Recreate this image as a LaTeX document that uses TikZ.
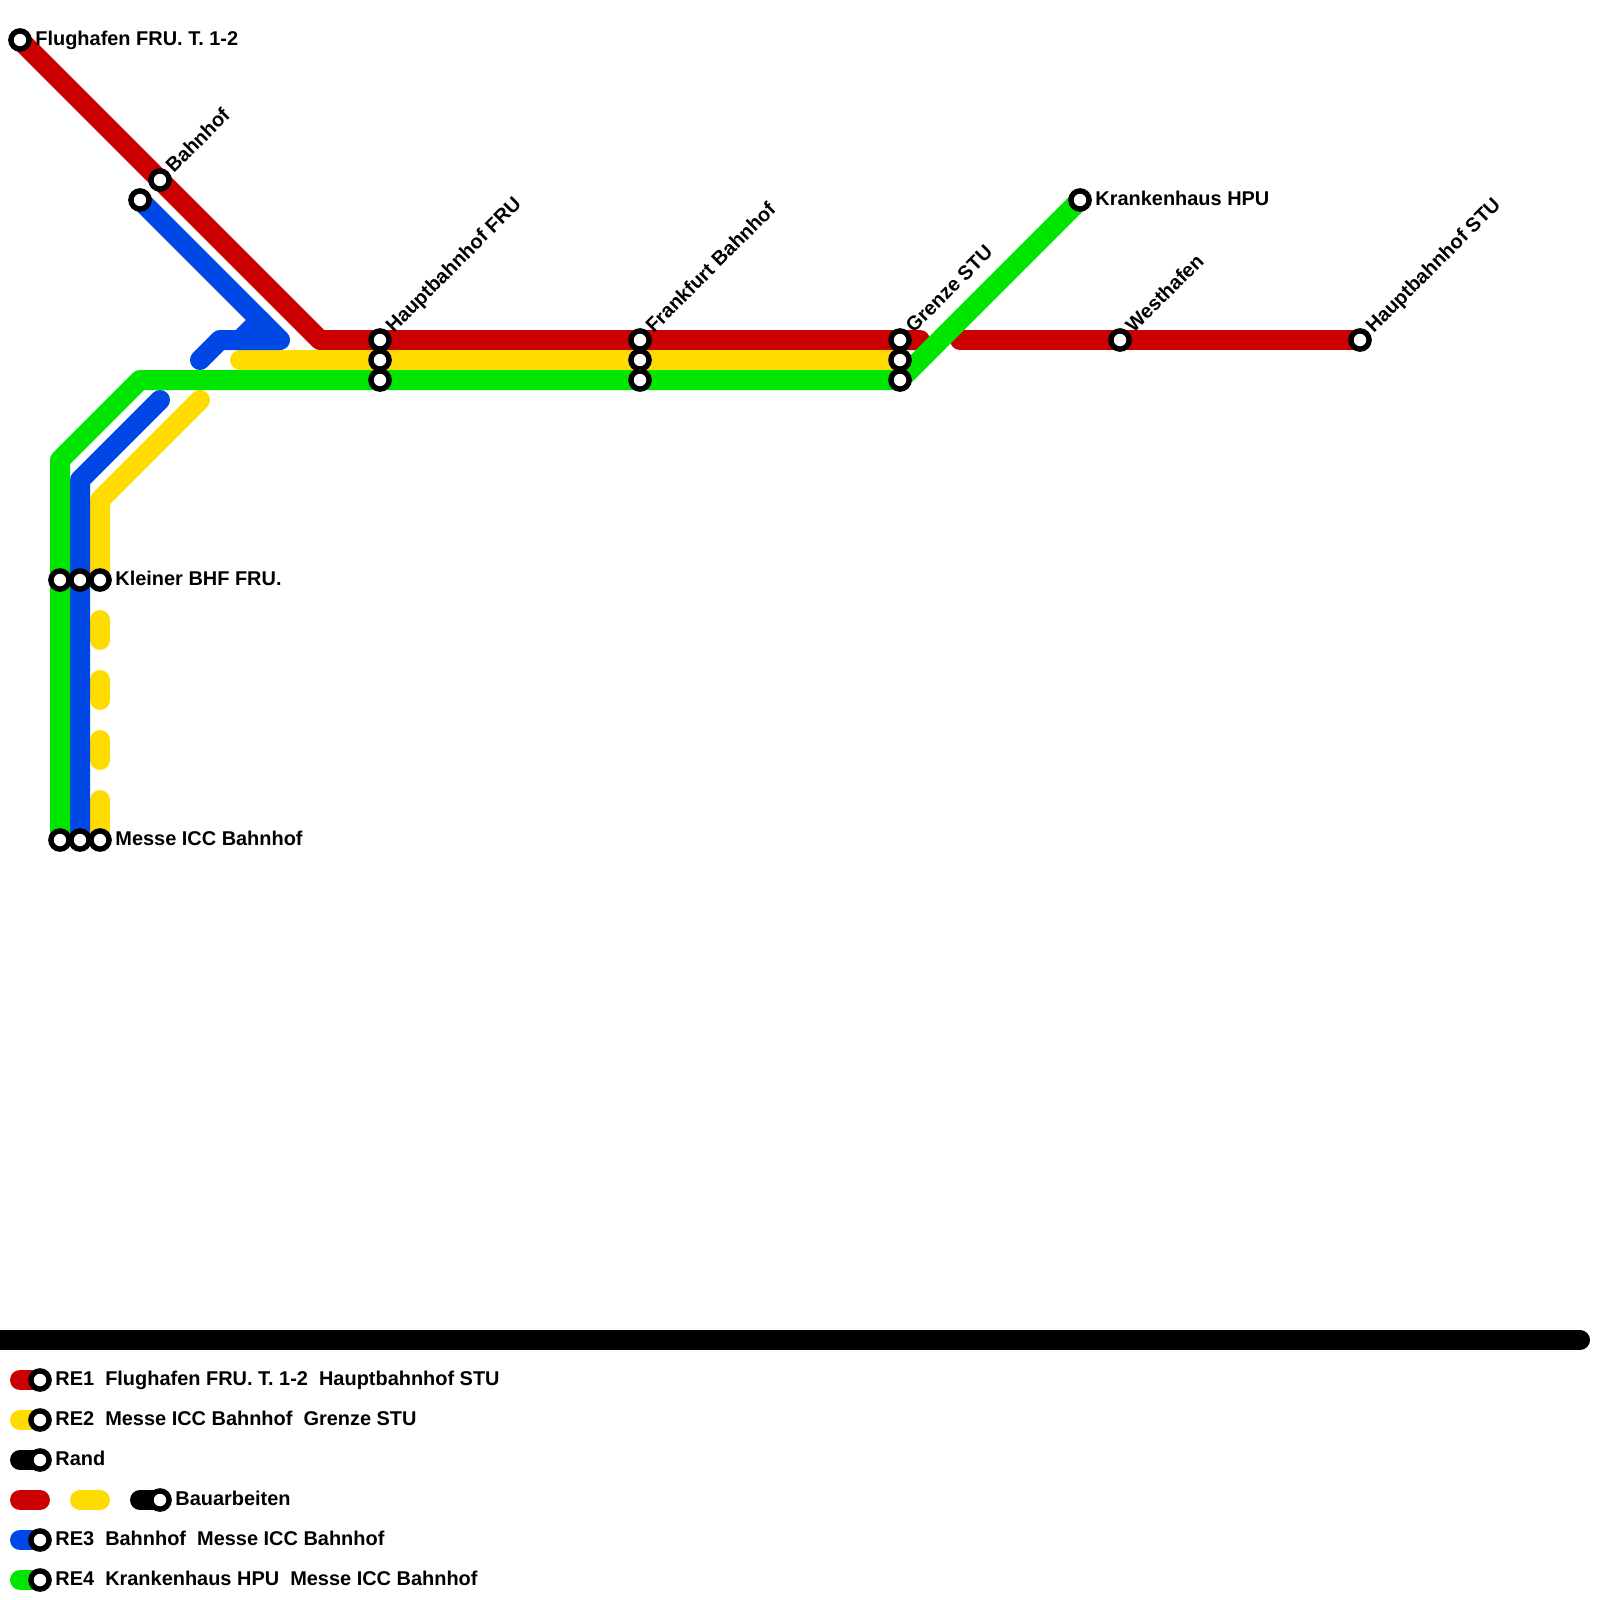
\documentclass[tikz,border=0pt]{standalone}
\usepackage{fontspec}
\setmainfont{Liberation Sans}
\usepackage{xcolor}
\definecolor{LineRed}{HTML}{cc0000}
\definecolor{LineYellow}{HTML}{ffdc00}
\definecolor{LineBlue}{HTML}{0048e6}
\definecolor{LineGreen}{HTML}{00e600}
\tikzset{
    track/.style={line width=10pt,line cap=round,line join=round},
    station/.style={circle,draw=black,fill=white,line width=2.7pt,outer sep=0pt,minimum size=9.1pt,inner sep=0pt},
    sidelabel/.style={anchor=base west,inner sep=0pt,xshift=7.5pt,yshift=-2.7pt,font=\bfseries\fontsize{9.97}{12}\selectfont},
    diaglabel/.style={anchor=base west,inner sep=0pt,xshift=6.8pt,yshift=3pt,rotate=45,font=\bfseries\fontsize{9.97}{12}\selectfont},
}

\begin{document}
\begin{tikzpicture}[x=0.5pt,y=-0.5pt]
    \useasboundingbox (0,0) rectangle (1600,1600);

    \coordinate (Flughafen) at (20,40);
    \coordinate (BahnhofRed) at (160,180);
    \coordinate (BahnhofBlue) at (140,200);
    \coordinate (RedBend) at (320,340);
    \coordinate (HbfRed) at (380,340);
    \coordinate (HbfYellow) at (380,360);
    \coordinate (HbfGreen) at (380,380);
    \coordinate (FfmRed) at (640,340);
    \coordinate (FfmYellow) at (640,360);
    \coordinate (FfmGreen) at (640,380);
    \coordinate (GrenzeRed) at (900,340);
    \coordinate (GrenzeYellow) at (900,360);
    \coordinate (GrenzeGreen) at (900,380);
    \coordinate (RedStop) at (920,340);
    \coordinate (RedStart) at (960,340);
    \coordinate (Westhafen) at (1120,340);
    \coordinate (HbfStu) at (1360,340);
    \coordinate (Krankenhaus) at (1080,200);
    \coordinate (KleinerGreen) at (60,580);
    \coordinate (KleinerBlue) at (80,580);
    \coordinate (KleinerYellow) at (100,580);
    \coordinate (MesseGreen) at (60,840);
    \coordinate (MesseBlue) at (80,840);
    \coordinate (MesseYellow) at (100,840);

    % lines
    \draw[track,LineRed] (Flughafen) -- (BahnhofRed) -- (RedBend) -- (HbfRed) -- (FfmRed) -- (GrenzeRed) -- (RedStop);
    \draw[track,LineRed] (RedStart) -- (Westhafen) -- (HbfStu);

    \coordinate (YellowEnd) at (200,400);
    \coordinate (YellowBend) at (100,500);
    \coordinate (YellowStart) at (240,360);
    \coordinate (DashTop) at (100,620);
    \coordinate (DashEnd) at (100,780);
    \coordinate (DashLast) at (100,800);
    \draw[track,LineYellow] (YellowEnd) -- (YellowBend) -- (KleinerYellow);
    \draw[track,LineYellow,dash pattern=on 10pt off 20pt] (DashTop) -- (DashEnd);
    \draw[track,LineYellow] (DashLast) -- (MesseYellow);
    \draw[track,LineYellow] (YellowStart) -- (HbfYellow) -- (FfmYellow) -- (GrenzeYellow);

    \coordinate (BlueTip) at (280,340);
    \coordinate (BlueJoin) at (260,320);
    \coordinate (BlueFoot) at (240,340);
    \coordinate (BlueBend) at (220,340);
    \coordinate (BlueEnd) at (200,360);
    \coordinate (BlueStub) at (160,400);
    \coordinate (BlueLow) at (80,480);
    \draw[track,LineBlue] (BahnhofBlue) -- (BlueJoin) -- (BlueTip) -- (BlueFoot) -- (BlueBend) -- (BlueEnd);
    \draw[track,LineBlue] (BlueJoin) -- (BlueFoot);
    \draw[track,LineBlue] (BlueStub) -- (BlueLow) -- (KleinerBlue) -- (MesseBlue);

    \coordinate (GreenLow) at (60,460);
    \coordinate (GreenBend) at (140,380);
    \draw[track,LineGreen] (MesseGreen) -- (KleinerGreen) -- (GreenLow) -- (GreenBend) -- (HbfGreen) -- (FfmGreen) -- (GrenzeGreen) -- (Krankenhaus);

    % stations
    \node[station] (sFlughafen) at (Flughafen) {};
    \node[station] (sBahnhofRed) at (BahnhofRed) {};
    \node[station] (sBahnhofBlue) at (BahnhofBlue) {};
    \node[station] (sHbfRed) at (HbfRed) {};
    \node[station] (sHbfYellow) at (HbfYellow) {};
    \node[station] (sHbfGreen) at (HbfGreen) {};
    \node[station] (sFfmRed) at (FfmRed) {};
    \node[station] (sFfmYellow) at (FfmYellow) {};
    \node[station] (sFfmGreen) at (FfmGreen) {};
    \node[station] (sGrenzeRed) at (GrenzeRed) {};
    \node[station] (sGrenzeYellow) at (GrenzeYellow) {};
    \node[station] (sGrenzeGreen) at (GrenzeGreen) {};
    \node[station] (sWesthafen) at (Westhafen) {};
    \node[station] (sHbfStu) at (HbfStu) {};
    \node[station] (sKrankenhaus) at (Krankenhaus) {};
    \node[station] (sKleinerGreen) at (KleinerGreen) {};
    \node[station] (sKleinerBlue) at (KleinerBlue) {};
    \node[station] (sKleinerYellow) at (KleinerYellow) {};
    \node[station] (sMesseGreen) at (MesseGreen) {};
    \node[station] (sMesseBlue) at (MesseBlue) {};
    \node[station] (sMesseYellow) at (MesseYellow) {};

    % labels
    \node[sidelabel] (lFlughafen) at (Flughafen) {Flughafen FRU. T. 1-2};
    \node[sidelabel] (lKrankenhaus) at (Krankenhaus) {Krankenhaus HPU};
    \node[sidelabel] (lKleiner) at (KleinerYellow) {Kleiner BHF FRU.};
    \node[sidelabel] (lMesse) at (MesseYellow) {Messe ICC Bahnhof};
    \node[diaglabel] (lBahnhof) at (BahnhofRed) {Bahnhof};
    \node[diaglabel] (lHbf) at (HbfRed) {Hauptbahnhof FRU};
    \node[diaglabel] (lFfm) at (FfmRed) {Frankfurt Bahnhof};
    \node[diaglabel] (lGrenze) at (GrenzeRed) {Grenze STU};
    \node[diaglabel] (lWesthafen) at (Westhafen) {Westhafen};
    \node[diaglabel] (lHbfStu) at (HbfStu) {Hauptbahnhof STU};

    % bar
    \coordinate (BarLeft) at (0,1340);
    \coordinate (BarRight) at (1580,1340);
    \draw[track,black] (BarLeft) -- (BarRight);

    % legend
    \coordinate (KeyA) at (20,1380);
    \coordinate (KeyAs) at (40,1380);
    \coordinate (KeyB) at (20,1420);
    \coordinate (KeyBs) at (40,1420);
    \coordinate (KeyC) at (20,1460);
    \coordinate (KeyCs) at (40,1460);
    \coordinate (KeyD) at (20,1500);
    \coordinate (KeyDe) at (40,1500);
    \coordinate (KeyF) at (80,1500);
    \coordinate (KeyFe) at (100,1500);
    \coordinate (KeyG) at (140,1500);
    \coordinate (KeyGs) at (160,1500);
    \coordinate (KeyH) at (20,1540);
    \coordinate (KeyHs) at (40,1540);
    \coordinate (KeyI) at (20,1580);
    \coordinate (KeyIs) at (40,1580);
    \draw[track,LineRed] (KeyA) -- (KeyAs);
    \draw[track,LineYellow] (KeyB) -- (KeyBs);
    \draw[track,black] (KeyC) -- (KeyCs);
    \draw[track,LineRed] (KeyD) -- (KeyDe);
    \draw[track,LineYellow] (KeyF) -- (KeyFe);
    \draw[track,black] (KeyG) -- (KeyGs);
    \draw[track,LineBlue] (KeyH) -- (KeyHs);
    \draw[track,LineGreen] (KeyI) -- (KeyIs);
    \node[station] (sKeyA) at (KeyAs) {};
    \node[station] (sKeyB) at (KeyBs) {};
    \node[station] (sKeyC) at (KeyCs) {};
    \node[station] (sKeyG) at (KeyGs) {};
    \node[station] (sKeyH) at (KeyHs) {};
    \node[station] (sKeyI) at (KeyIs) {};
    \node[sidelabel] (lKeyA) at (KeyAs) {RE1\ \ Flughafen FRU. T. 1-2\ \ Hauptbahnhof STU};
    \node[sidelabel] (lKeyB) at (KeyBs) {RE2\ \ Messe ICC Bahnhof\ \ Grenze STU};
    \node[sidelabel] (lKeyC) at (KeyCs) {Rand};
    \node[sidelabel] (lKeyG) at (KeyGs) {Bauarbeiten};
    \node[sidelabel] (lKeyH) at (KeyHs) {RE3\ \ Bahnhof\ \ Messe ICC Bahnhof};
    \node[sidelabel] (lKeyI) at (KeyIs) {RE4\ \ Krankenhaus HPU\ \ Messe ICC Bahnhof};
\end{tikzpicture}
\end{document}
